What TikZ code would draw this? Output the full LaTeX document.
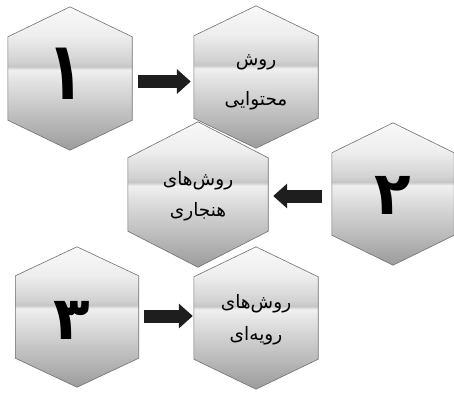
\documentclass[tikz,border=0pt]{standalone}
\usepackage{fontspec}
\usetikzlibrary{arrows.meta}
\TeXXeTstate=1
\newfontfamily\fa[Script=Arabic]{DejaVu Sans}
\newfontfamily\fanum[Script=Arabic]{DejaVu Sans Bold}
\newcommand\rtl[1]{\beginR #1\endR}
\definecolor{hexline}{HTML}{707070}
\definecolor{arrowcol}{HTML}{1E1E1E}
\definecolor{sA}{HTML}{9C9C9C}
\definecolor{sB}{HTML}{C0C0C0}
\definecolor{sC}{HTML}{E2E2E2}
\definecolor{sD}{HTML}{F0F0F0}
\definecolor{sE}{HTML}{C6C6C6}
\definecolor{sF}{HTML}{D2D2D2}
\definecolor{sG}{HTML}{EEEEEE}
\definecolor{sH}{HTML}{F8F8F8}
\pgfdeclareverticalshading{hexshade}{100bp}{color(0bp)=(sA); color(25bp)=(sA); color(37.5bp)=(sB); color(49bp)=(sC); color(53bp)=(sD); color(54.2bp)=(sE); color(56bp)=(sF); color(65bp)=(sG); color(75bp)=(sH); color(100bp)=(sH)}
\tikzset{
  hexbox/.style={shape=rectangle, inner sep=0pt, minimum width=124pt, minimum height=142pt},
  hexface/.style={shading=hexshade, draw=hexline, line width=0.6pt},
  numtext/.style={font=\fanum\fontsize{60}{60}\selectfont, text=black, inner sep=0pt},
  labtext/.style={font=\fa\fontsize{18.5}{#1}\selectfont, align=center, inner sep=0pt},
  bigarrow/.style={draw=arrowcol, line width=13pt, -{Triangle[length=14pt,width=24pt]}}
}
\newcommand\hexface[2]{%
  \path[hexface] (#1.north) -- ([yshift=-#2]#1.north east) -- ([yshift=#2]#1.south east)
    -- (#1.south) -- ([yshift=#2]#1.south west) -- ([yshift=-#2]#1.north west) -- cycle;}
\begin{document}
\begin{tikzpicture}[x=1pt,y=-1pt]
\useasboundingbox (0,0) rectangle (454,392);
% hexagon nodes
\node[hexbox, minimum height=143pt] (h1) at (70,78.5) {};
\node[hexbox] (hA) at (256,77) {};
\node[hexbox, minimum width=122pt] (h2) at (393,194) {};
\node[hexbox, minimum width=140pt, minimum height=145pt] (hB) at (198,194.5) {};
\node[hexbox, minimum width=123pt, minimum height=140pt] (h3) at (77,317) {};
\node[hexbox] (hC) at (256,318) {};
\hexface{h1}{30pt}
\hexface{hA}{30pt}
\hexface{h2}{30pt}
\hexface{hB}{36pt}
\hexface{h3}{29pt}
\hexface{hC}{30pt}
% numbers
\node[numtext, yscale=1.35, transform shape] (n1) at ([xshift=-4pt,yshift=5pt]h1.center) {\rtl{۱}};
\node[numtext] (n2) at ([yshift=-1pt]h2.center) {\rtl{۲}};
\node[numtext] (n3) at ([xshift=-5pt,yshift=-3pt]h3.center) {\rtl{۳}};
% labels
\node[labtext=40pt] (tA) at ([yshift=-5pt]hA.center) {\rtl{روش}\\\rtl{محتوایی}};
\node[labtext=31pt] (tB) at ([yshift=-2pt]hB.center) {\rtl{روش‌های}\\\rtl{هنجاری}};
\node[labtext=32pt] (tC) at ([yshift=-2pt]hC.center) {\rtl{روش‌های}\\\rtl{رویه‌ای}};
% arrows
\draw[bigarrow, shorten <=6pt, shorten >=3pt] ([yshift=-3pt]h1.east) -- ([yshift=-3pt]h1.east -| hA.west);
\draw[bigarrow, shorten <=9.5pt, shorten >=5pt] ([yshift=-2pt]h2.west) -- ([yshift=-2pt]h2.west -| hB.east);
\draw[bigarrow, shorten <=5.5pt, shorten >=1pt] ([yshift=1pt]h3.east) -- ([yshift=1pt]h3.east -| hC.west);
\end{tikzpicture}
\end{document}
